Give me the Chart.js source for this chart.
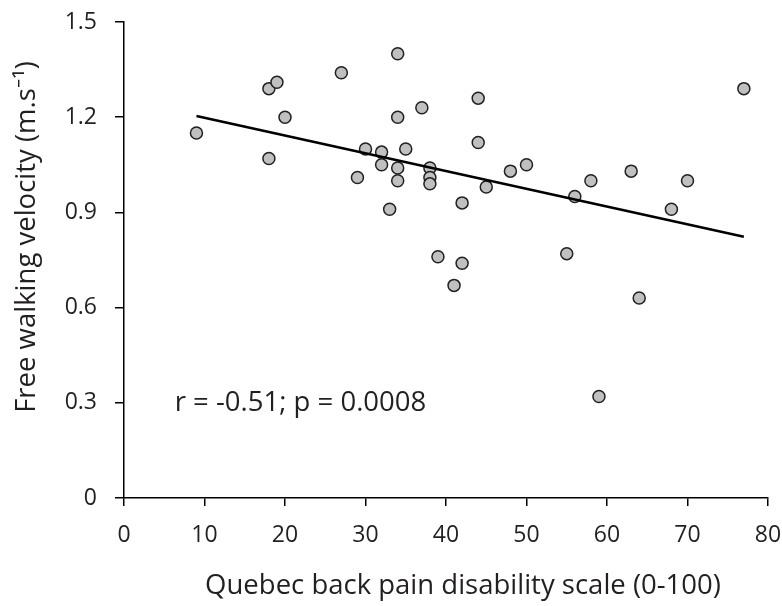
<!DOCTYPE html>
<html>
<head>
<meta charset="utf-8">
<script src="https://cdn.jsdelivr.net/npm/chart.js@4"></script>
<style>
  html, body { margin: 0; padding: 0; background: #ffffff; }
  #wrap { width: 782px; height: 606px; position: relative; }
</style>
</head>
<body>
<div id="wrap"><canvas id="c"></canvas></div>
<script>
// Quebec back pain disability scale (0-100)
const disabilityScores = [9,18,19,18,20,27,29,30,32,32,33,34,34,34,34,35,37,38,38,38,39,41,42,42,44,44,45,48,50,55,56,58,59,63,64,68,70,77];
// Free walking velocity (m.s-1)
const walkingVelocity = [1.15,1.29,1.31,1.07,1.20,1.34,1.01,1.10,1.09,1.05,0.91,1.40,1.20,1.04,1.00,1.10,1.23,1.04,1.01,0.99,0.76,0.67,0.93,0.74,1.26,1.12,0.98,1.03,1.05,0.77,0.95,1.00,0.32,1.03,0.63,0.91,1.00,1.29];
// Regression line end points
const fitX = [9, 77];
const fitY = [1.204, 0.823];
// Axis ticks
const xTicks = [0,10,20,30,40,50,60,70,80];
const yTicks = [0,0.3,0.6,0.9,1.2,1.5];
const xTitle = 'Quebec back pain disability scale (0-100)';
const yTitle = 'Free walking velocity (m.s\u207B\u00B9)';
const statText = 'r = -0.51; p = 0.0008';

const FONT = "'Open Sans', 'Noto Sans', sans-serif";
const TXT = '#231f20';

const scatterPts = disabilityScores.map((x, i) => ({ x: x, y: walkingVelocity[i] }));
const fitPts = fitX.map((x, i) => ({ x: x, y: fitY[i] }));

const textPlugin = {
  id: 'textPlugin',
  afterDraw(chart) {
    const { ctx, chartArea, scales } = chart;
    ctx.save();
    ctx.fillStyle = TXT;
    ctx.font = "27.5px " + FONT;
    ctx.textBaseline = 'middle';
    // x title
    ctx.textAlign = 'center';
    ctx.fillText(xTitle, (chartArea.left + chartArea.right) / 2 + 17, chartArea.bottom + 88);
    // y title
    ctx.save();
    ctx.translate(27, chartArea.top + 215);
    ctx.rotate(-Math.PI / 2);
    ctx.fillText(yTitle, 0, 0);
    ctx.restore();
    // stat annotation
    ctx.textAlign = 'left';
    ctx.fillText(statText, scales.x.getPixelForValue(6.3), scales.y.getPixelForValue(0.30));
    ctx.restore();
  }
};

new Chart(document.getElementById('c'), {
  type: 'scatter',
  data: {
    datasets: [
      {
        type: 'line',
        data: fitPts,
        borderColor: '#000000',
        borderWidth: 2.5,
        pointRadius: 0,
        fill: false,
        order: 0
      },
      {
        type: 'scatter',
        data: scatterPts,
        backgroundColor: '#c0c0c0',
        borderColor: '#231f20',
        borderWidth: 1.5,
        pointRadius: 6,
        pointHoverRadius: 6,
        order: 1
      }
    ]
  },
  options: {
    responsive: true,
    maintainAspectRatio: false,
    animation: false,
    events: [],
    layout: { padding: { left: 0, right: 14, top: 22, bottom: 0 } },
    plugins: { legend: { display: false }, tooltip: { enabled: false } },
    scales: {
      x: {
        type: 'linear',
        min: xTicks[0],
        max: xTicks[xTicks.length - 1],
        afterBuildTicks(scale) { scale.ticks = xTicks.map(v => ({ value: v })); },
        afterFit(scale) {
          scale.height = 606 - 498;
          scale.paddingLeft = 0; scale.paddingRight = 0;
        },
        ticks: { color: TXT, font: { family: FONT, size: 23 }, padding: 16, maxRotation: 0 },
        grid: { display: true, drawOnChartArea: false, drawTicks: true, tickLength: 8, color: '#000000', lineWidth: 1.5 },
        border: { display: true, color: '#000000', width: 1.5 }
      },
      y: {
        type: 'linear',
        min: yTicks[0],
        max: yTicks[yTicks.length - 1],
        afterBuildTicks(scale) { scale.ticks = yTicks.map(v => ({ value: v })); },
        afterFit(scale) {
          scale.width = 124;
          scale.paddingTop = 0; scale.paddingBottom = 0;
        },
        ticks: {
          color: TXT, font: { family: FONT, size: 23 }, padding: 18,
          callback: v => (v === 0 ? '0' : v.toFixed(1))
        },
        grid: { display: true, drawOnChartArea: false, drawTicks: true, tickLength: 9, color: '#000000', lineWidth: 1.5 },
        border: { display: true, color: '#000000', width: 1.5 }
      }
    }
  },
  plugins: [textPlugin]
});
</script>
</body>
</html>
